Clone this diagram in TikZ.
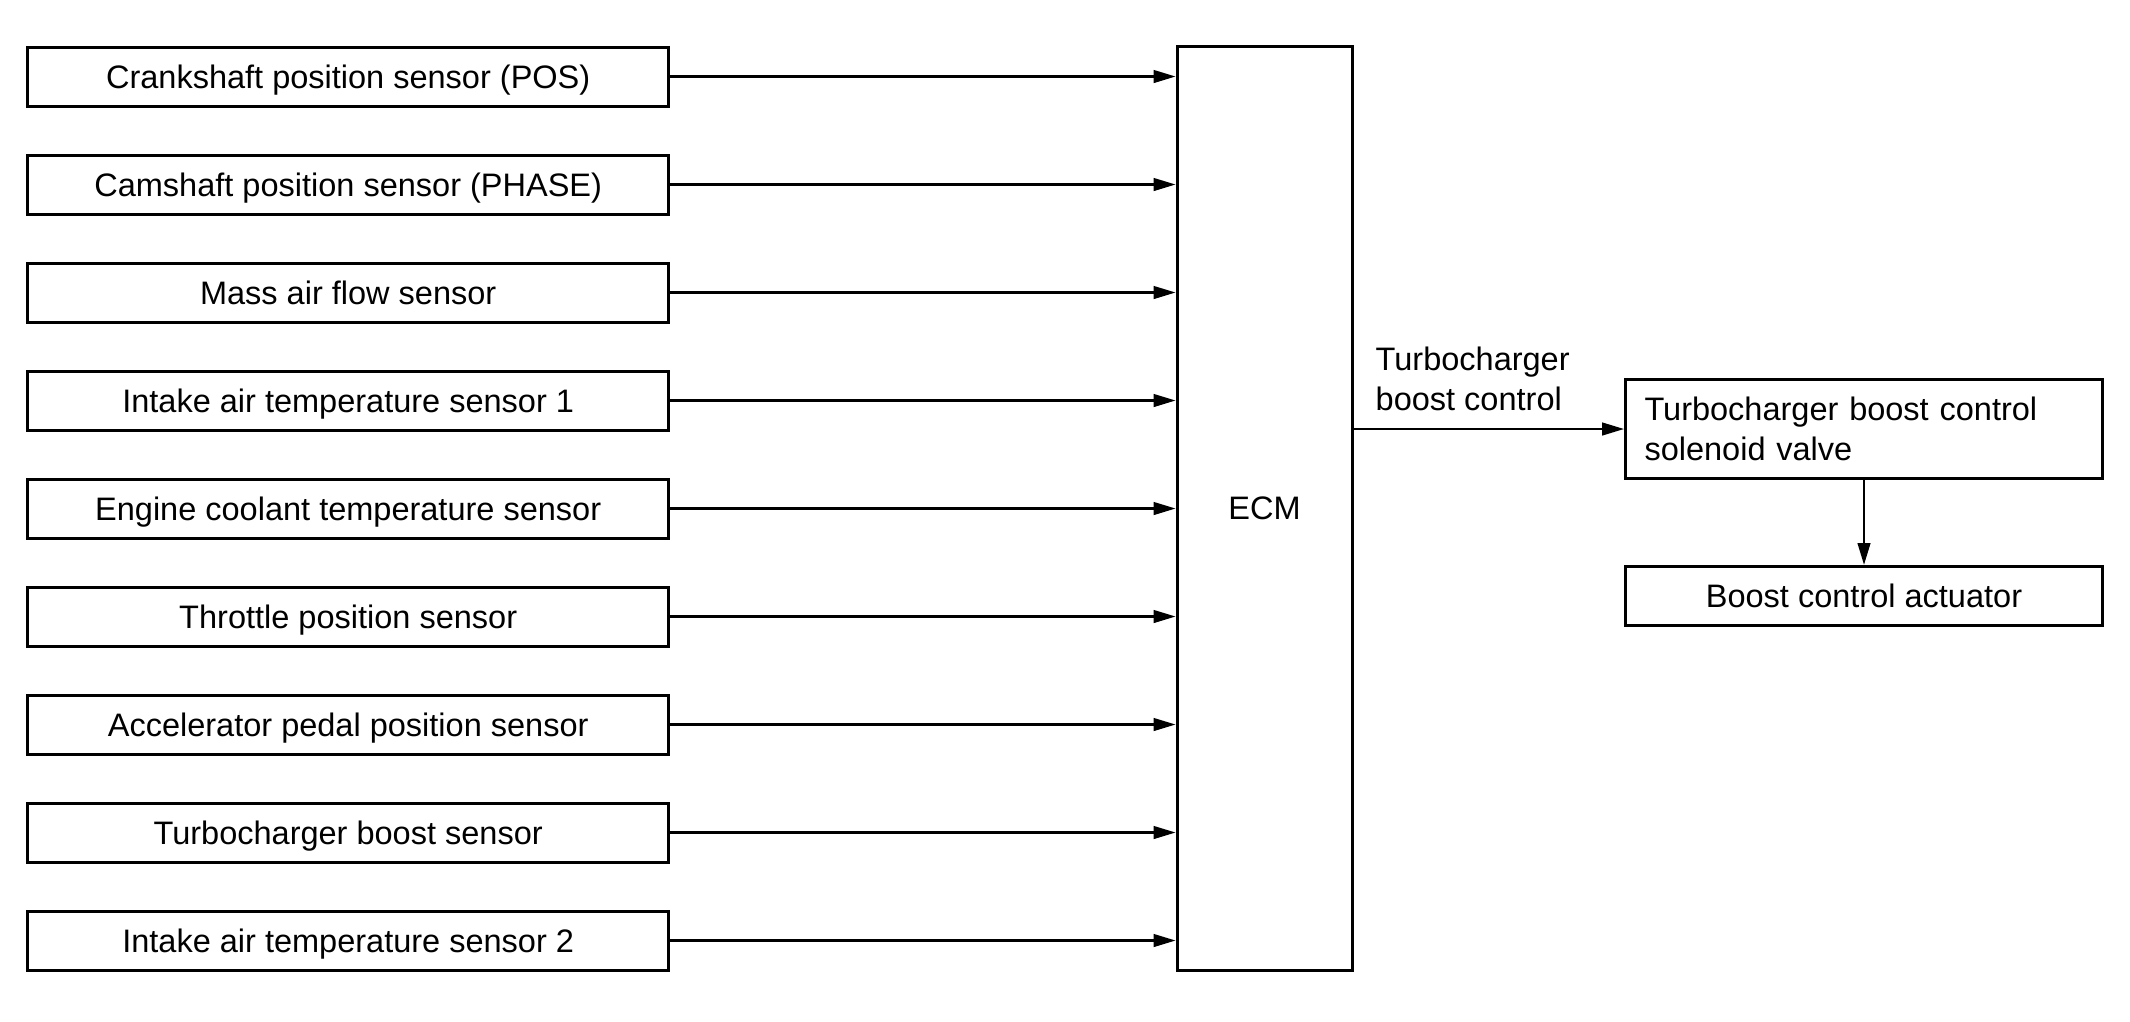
\documentclass[tikz,border=0pt]{standalone}
\usepackage{fontspec}
\setmainfont{Liberation Sans}
\usepackage{tikz}
\usetikzlibrary{shapes,arrows,positioning,calc,arrows.meta}

\begin{document}
\begin{tikzpicture}[
    font=\fontsize{9.25}{11.4}\selectfont,
    >={Triangle[length=6.2pt,width=3.6pt]},
    sensor/.style={draw,line width=0.85pt,minimum width=6.41cm,minimum height=0.59cm,inner sep=0pt,text height=6.6pt,text depth=0pt},
    unit/.style={draw,line width=0.85pt,minimum width=4.77cm,inner sep=0pt},
    sig/.style={->,line width=0.6pt},
    lbl/.style={align=left,inner sep=0pt}
  ]
    \useasboundingbox (0,0) rectangle (21.3,-10.21);
    % inputs
    \node[sensor] (crank) at (3.482,-0.765) {Crankshaft position sensor (POS)};
    \node[sensor] (cam)   at (3.482,-1.845) {Camshaft position sensor (PHASE)};
    \node[sensor] (maf)   at (3.482,-2.925) {Mass air flow sensor};
    \node[sensor] (iat1)  at (3.482,-4.005) {Intake air temperature sensor 1};
    \node[sensor] (ect)   at (3.482,-5.085) {Engine coolant temperature sensor};
    \node[sensor] (tps)   at (3.482,-6.165) {Throttle position sensor};
    \node[sensor] (apps)  at (3.482,-7.245) {Accelerator pedal position sensor};
    \node[sensor] (boost) at (3.482,-8.325) {Turbocharger boost sensor};
    \node[sensor] (iat2)  at (3.482,-9.405) {Intake air temperature sensor 2};
    % control unit
    \node[draw,line width=0.85pt,minimum width=1.75cm,minimum height=9.24cm,inner sep=0pt] (ecm) at (12.645,-5.085) {ECM};
    % outputs
    \node[unit,minimum height=0.99cm,text width=4.39cm,align=left,inner xsep=0.19cm] (sol) at (18.64,-4.29) {Turbocharger boost control\\solenoid valve};
    \node[unit,minimum height=0.593cm,text height=6.6pt,text depth=0pt] (act) at (18.64,-5.96) {Boost control actuator};
    \node[lbl,anchor=west] (ctl) at (13.75,-3.785) {Turbocharger\\boost control};

    \draw[sig] (crank) -- (crank -| ecm.west);
    \draw[sig] (cam) -- (cam -| ecm.west);
    \draw[sig] (maf) -- (maf -| ecm.west);
    \draw[sig] (iat1) -- (iat1 -| ecm.west);
    \draw[sig] (ect) -- (ect -| ecm.west);
    \draw[sig] (tps) -- (tps -| ecm.west);
    \draw[sig] (apps) -- (apps -| ecm.west);
    \draw[sig] (boost) -- (boost -| ecm.west);
    \draw[sig] (iat2) -- (iat2 -| ecm.west);
    \draw[sig] (sol -| ecm.east) -- (sol.west);
    \draw[sig] (sol) -- (act);
\end{tikzpicture}
\end{document}
